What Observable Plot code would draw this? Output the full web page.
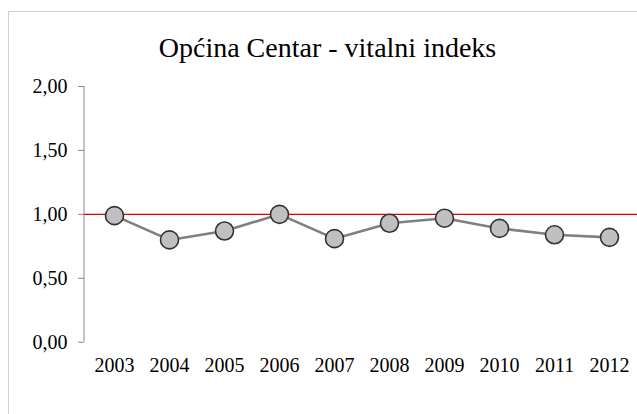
<!DOCTYPE html>
<html>
<head>
<meta charset="utf-8">
<script src="https://cdn.jsdelivr.net/npm/d3@7"></script>
<script src="https://cdn.jsdelivr.net/npm/@observablehq/plot@0.6"></script>
<style>
  html, body { margin: 0; padding: 0; background: #fff; overflow: hidden; }
  #wrap { position: relative; width: 637px; height: 414px; overflow: hidden; }
  #box { position: absolute; left: 8px; top: 11px; width: 660px; height: 440px; border: 1px solid #d0d0d0; box-sizing: border-box; }
  #title { position: absolute; left: 0; top: 0; width: 655px; height: 75px; text-align: center;
           font-family: "Liberation Serif", "Times New Roman", serif; font-size: 28px; line-height: 1; color: #000; }
  #title span { position: absolute; left: 0; right: 0; top: 34px; }
  #chart { position: absolute; left: 0; top: 75px; }
</style>
</head>
<body>
<div id="wrap">
  <div id="box"></div>
  <div id="title"><span>Općina Centar - vitalni indeks</span></div>
  <div id="chart"></div>
</div>
<script>
const years = ["2003","2004","2005","2006","2007","2008","2009","2010","2011","2012"];
const values = [0.99, 0.80, 0.87, 1.00, 0.81, 0.93, 0.97, 0.89, 0.84, 0.82];
const yTicks = [0, 0.5, 1, 1.5, 2];
const yTickLabels = ["0,00", "0,50", "1,00", "1,50", "2,00"];
const reference = [1];

const data = years.map((y, i) => ({year: y, value: values[i]}));

const chart = Plot.plot({
  width: 637,
  height: 339,
  marginTop: 11,
  marginBottom: 72.3,
  marginLeft: 84,
  marginRight: 0,
  style: {fontFamily: '"Liberation Serif", "Times New Roman", serif', fontSize: "20px", color: "#000", background: "transparent", overflow: "visible"},
  x: {type: "point", domain: years, range: [111.75, 611.25], padding: 0, label: null, axis: null},
  y: {domain: [0, 2], label: null, axis: null},
  marks: [
    Plot.axisY({ticks: yTicks, tickFormat: d => yTickLabels[yTicks.indexOf(d)], tickSize: 6, tickPadding: 11, stroke: "#888", fill: "#000", label: null}),
    Plot.axisX({tickSize: 0, tickPadding: 16, fill: "#000", label: null}),
    Plot.ruleY(reference, {stroke: "#e00000", strokeWidth: 1.2}),
    Plot.line(data, {x: "year", y: "value", stroke: "#808080", strokeWidth: 2.6}),
    Plot.dot(data, {x: "year", y: "value", r: 9, fill: "#c0c0c0", stroke: "#333", strokeWidth: 1.6})
  ]
});
document.getElementById("chart").appendChild(chart);

// vertical y-axis line
const svg = d3.select(chart);
svg.insert("line", ":first-child")
  .attr("x1", 84).attr("x2", 84)
  .attr("y1", 11).attr("y2", 339 - 72.3)
  .attr("stroke", "#888").attr("stroke-width", 1);
</script>
</body>
</html>
